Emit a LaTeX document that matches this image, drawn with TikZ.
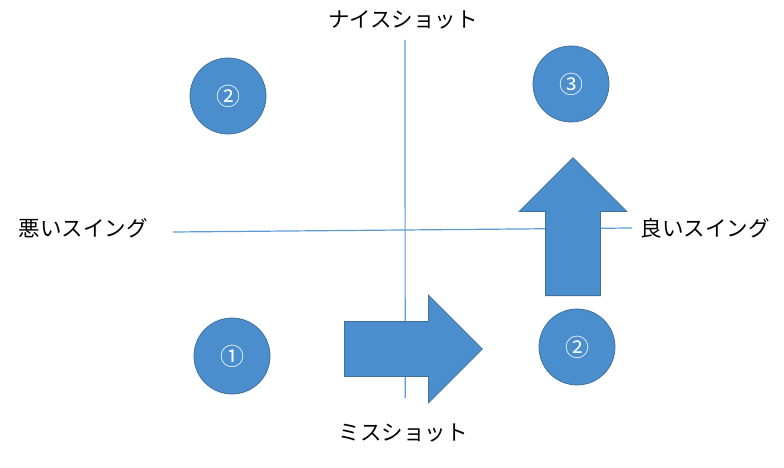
\documentclass[tikz,border=0pt]{standalone}
\usepackage{fontspec}
\newfontfamily\jpfont{Noto Sans CJK JP}
\usepackage{xcolor}
\usetikzlibrary{shapes.arrows, positioning}
\definecolor{ballfill}{HTML}{4A8ECE}
\definecolor{balledge}{HTML}{41719C}
\definecolor{axisline}{HTML}{5B9BD5}
\tikzstyle{ball} = [circle, minimum size=76pt, inner sep=0pt, draw=balledge, line width=0.8pt, fill=ballfill, text=white, font=\jpfont\fontsize{24}{24}\selectfont]
\tikzstyle{bigarrow} = [single arrow, anchor=tail, draw=balledge, line width=0.8pt, fill=ballfill, inner xsep=0pt, inner ysep=27pt, minimum height=138pt, single arrow head extend=26.5pt]
\tikzstyle{label} = [font=\jpfont\fontsize{21.5}{22}\selectfont, inner sep=0pt]
\tikzstyle{axis} = [draw=axisline, line width=1.2pt]

\begin{document}
\begin{tikzpicture}[x=1pt, y=-1pt]
    \useasboundingbox (0,0) rectangle (784,468);
    % axes
    \coordinate (top) at (405,40);
    \coordinate (bottom) at (405.2,398);
    \coordinate (left) at (173,232);
    \coordinate (right) at (632,228);
    \draw [axis] (top) -- (bottom);
    \draw [axis] (left) -- (right);

    \node (nice) [label] at (403,20) {ナイスショット};
    \node (miss) [label] at (403,433) {ミスショット};
    \node (bad) [label] at (83,228) {悪いスイング};
    \node (good) [label] at (705,228) {良いスイング};

    % balls
    \node (ballA) [ball] at (228,96) {②};
    \node (ballB) [ball] at (571,84) {③};
    \node (ballC) [ball] at (232,356) {①};
    \node (ballD) [ball] at (577,347) {②};

    % block arrows
    \node (moveR) [bigarrow] at (344,349) {};
    \node (moveU) [bigarrow, rotate=90] at (573,296) {};
\end{tikzpicture}
\end{document}
